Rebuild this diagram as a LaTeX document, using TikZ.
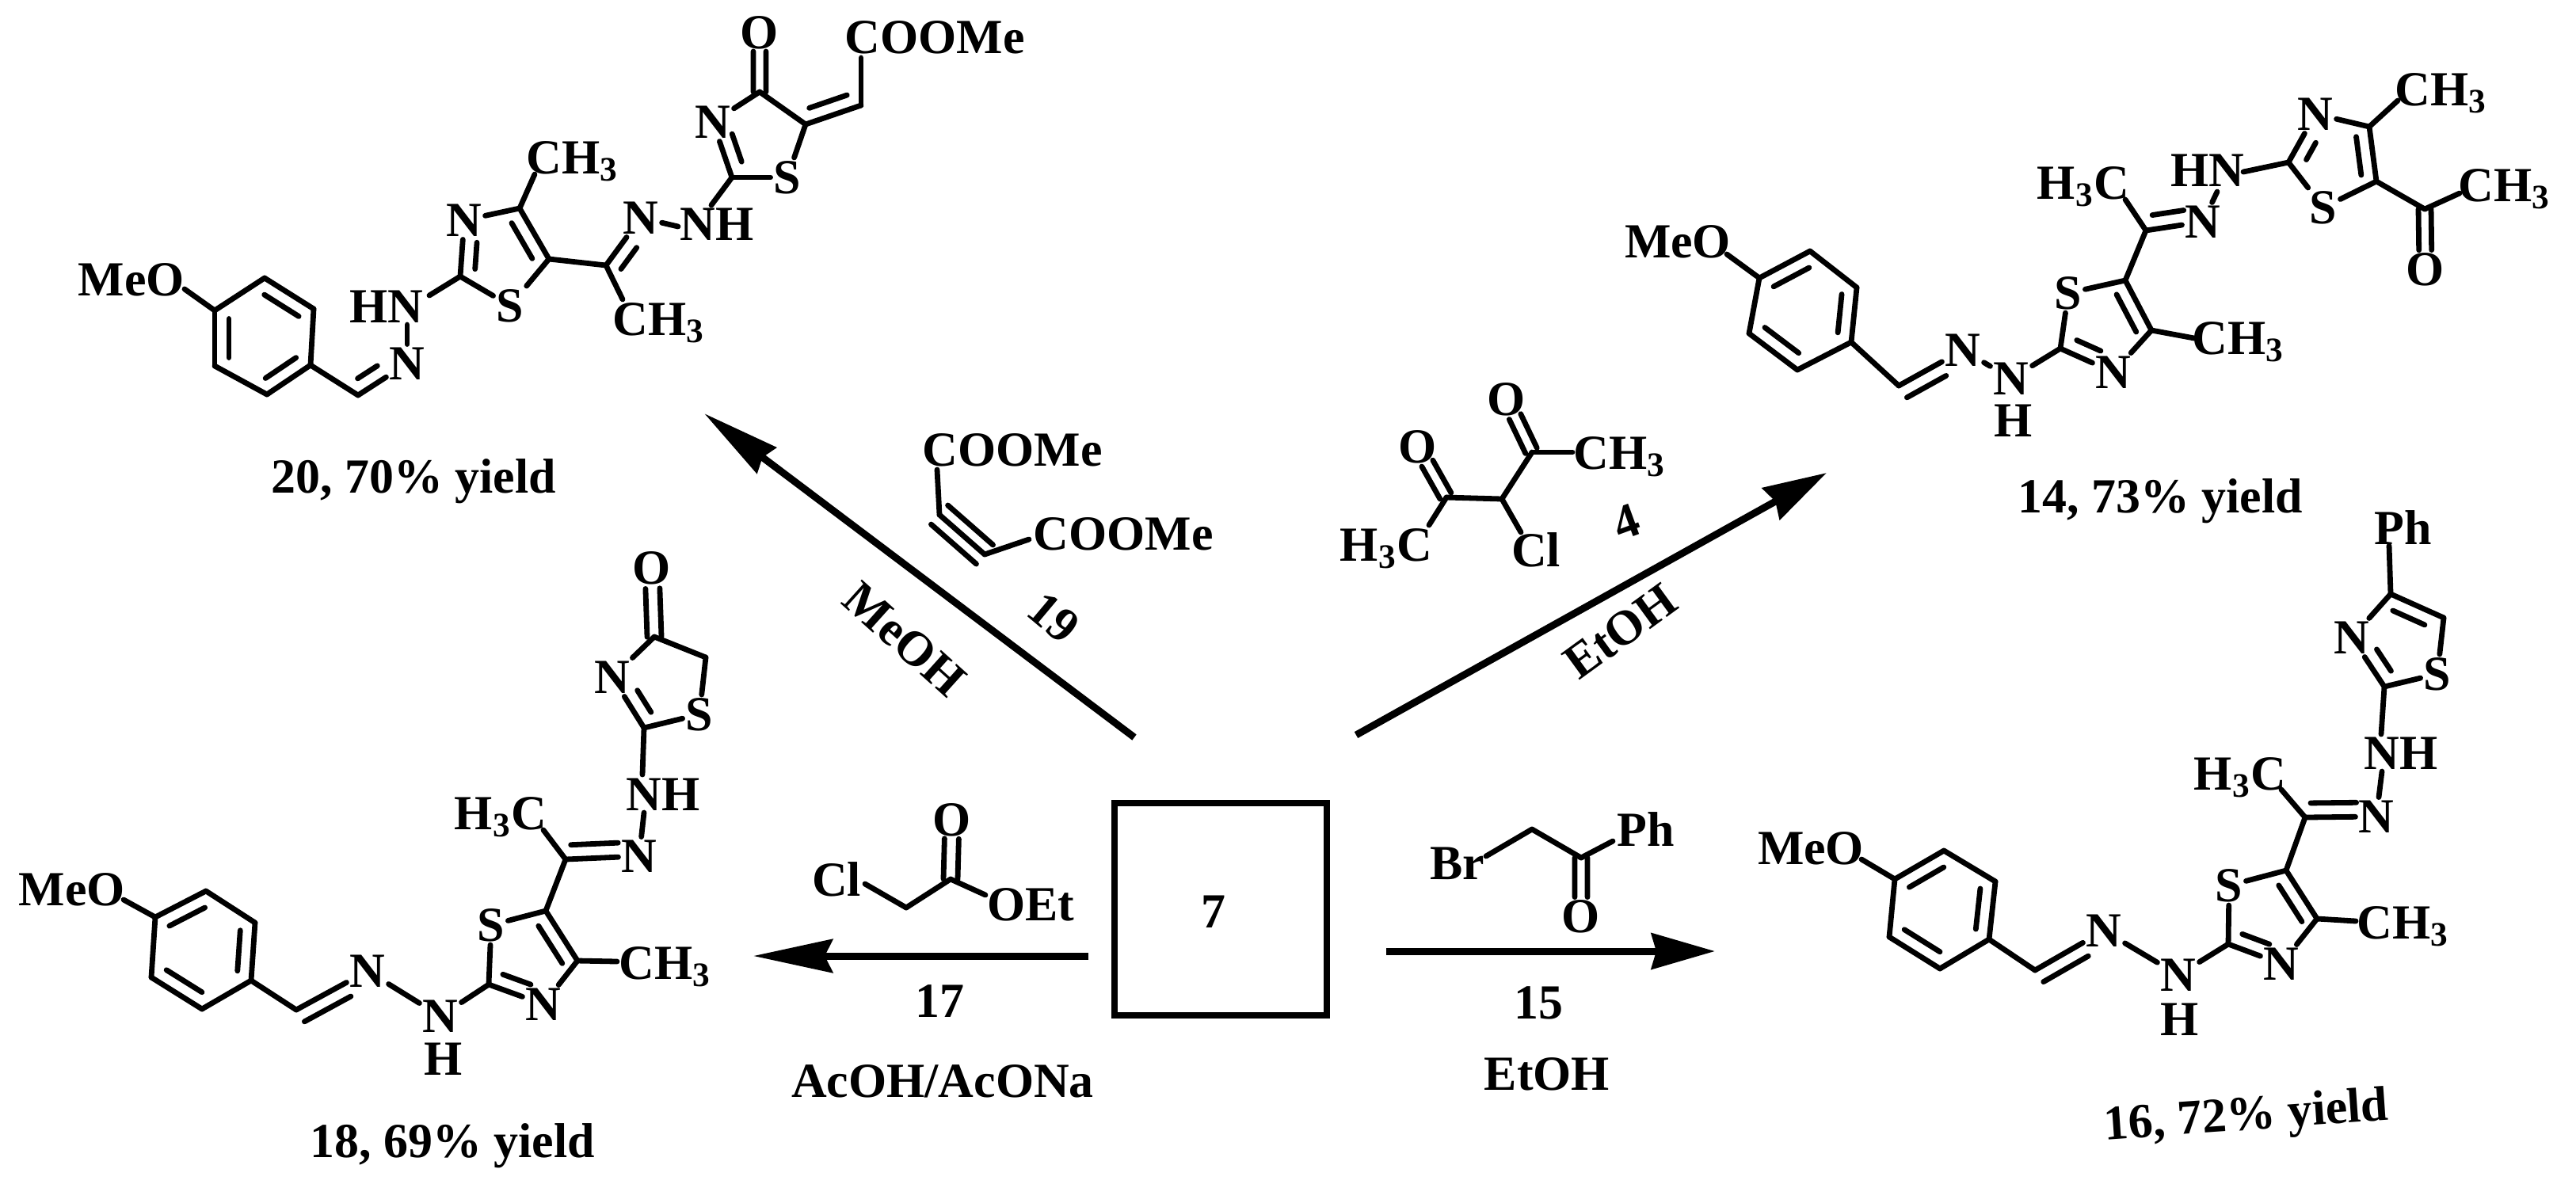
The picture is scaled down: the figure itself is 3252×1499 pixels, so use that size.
\documentclass[tikz,border=0pt]{standalone}
\usepackage{fontspec}
\setmainfont{Liberation Serif}
\usetikzlibrary{arrows.meta,calc}
\tikzset{
	lbl/.style={inner sep=1pt,font=\fontsize{17.6}{20}\selectfont\bfseries},
	bond/.style={line width=.068cm,line cap=round,line join=round},
	shaft/.style={line width=.09cm}
}
\def\thrC{CH\textsubscript{3}}
\def\thrH{H\textsubscript{3}C}
\begin{document}
\begin{tikzpicture}[x=.01cm,y=-.01cm,>=stealth]
	\useasboundingbox (0,0) rectangle (3252,1499);
	% compound 20
	\path (334,351)coordinate(a1) (396,390)coordinate(a2) (392,461)coordinate(a3) (337,498)coordinate(a4) (271,462)coordinate(a5) (271,392)coordinate(a6)
	(233,365)coordinate(a16) (452,499)coordinate(a7) (514,410)coordinate(a8) (542,373)coordinate(a9) (581,349)coordinate(a10) (656,263)coordinate(a11) (693,327)coordinate(a12)
	(675,220)coordinate(a18) (765,335)coordinate(a13) (786,378)coordinate(a19) (856,286)coordinate(a14) (898,259)coordinate(a15) (924,224)coordinate(a20)
	(959,116)coordinate(a21) (1017,157)coordinate(a22) (1087,133)coordinate(a23) (1087,73)coordinate(a24);
	\node[lbl] (aMeO) at (166,353) {MeO};
	\node[lbl] (aN1) at (514,459) {N};
	\node[lbl] (aHN) at (488,387) {HN};
	\node[lbl] (aN2) at (586,278) {N};
	\node[lbl] (aS1) at (644,386) {S};
	\node[lbl] (aMe1) at (723,204) {\thrC};
	\node[lbl] (aN3) at (809,275) {N};
	\node[lbl] (aMe2) at (832,408) {\thrC};
	\node[lbl] (aNH) at (905,283) {NH};
	\node[lbl] (aN4) at (900,154) {N};
	\node[lbl] (aS2) at (994,224) {S};
	\node[lbl] (aO) at (959,41) {O};
	\node[lbl] (aEst) at (1180,47) {COOMe};
	\node[lbl] (aYield) at (522,608) {20, 70\% yield};
	\foreach \p/\q in {a1/a2,a2/a3,a3/a4,a4/a5,a5/a6,a6/a1,a6/a16,a3/a7,a7/aN1,aN1/a8,a9/a10,a10/aN2,aN2/a11,a11/a12,a12/aS1,aS1/a10,a11/a18,a12/a13,a13/aN3,a13/a19,aN3/a14,a15/a20,a20/aN4,aN4/a21,a21/a22,a22/aS2,aS2/a20,a22/a23,a23/a24}
		\draw[bond] (\p)--(\q);
	\foreach \p/\q/\off/\s/\e in {a1/a2/-.18cm/.15/.15,a3/a4/-.18cm/.15/.15,a5/a6/-.18cm/.15/.15,a7/aN1/.18cm/.15/.45,a10/aN2/-.18cm/.15/.38,a11/a12/-.18cm/.15/.15,a13/aN3/-.18cm/.1/.45,a20/aN4/-.18cm/.2/.3,a21/aO/.08cm/0/.32,a21/aO/-.08cm/0/.32,a22/a23/.18cm/.15/.17}
		\draw[bond] ($(\p)!\s!(\q)!\off!90:(\q)$)--($(\q)!\e!(\p)!\off!-90:(\p)$);
	% compound 14
	\path (2285,317)coordinate(b1) (2344,363)coordinate(b2) (2337,432)coordinate(b3) (2269,467)coordinate(b4) (2208,421)coordinate(b5) (2221,351)coordinate(b6)
	(2180,321)coordinate(b7) (2397,487)coordinate(b8) (2601,440)coordinate(b9) (2683,354)coordinate(b10) (2716,417)coordinate(b11) (2770,427)coordinate(b12)
	(2709,291)coordinate(b13) (2683,252)coordinate(b14) (2799,242)coordinate(b15) (2832,217)coordinate(b16) (2889,205)coordinate(b17) (2991,160)coordinate(b18)
	(3000,229)coordinate(b19) (3027,127)coordinate(b20) (3061,264)coordinate(b21) (3105,244)coordinate(b22);
	\node[lbl] (bMeO) at (2118,305) {MeO};
	\node[lbl] (bN1) at (2478,442) {N};
	\node[lbl] (bNH) at (2539,478) {N};
	\node[lbl] (bH) at (2542,531) {H};
	\node[lbl] (bS1) at (2611,370) {S};
	\node[lbl] (bN2) at (2668,470) {N};
	\node[lbl] (bMe1) at (2826,432) {\thrC};
	\node[lbl] (bMe2) at (2630,236) {\thrH};
	\node[lbl] (bN3) at (2781,280) {N};
	\node[lbl] (bHN) at (2787,215) {HN};
	\node[lbl] (bN4) at (2923,144) {N};
	\node[lbl] (bS2) at (2933,262) {S};
	\node[lbl] (bMe3) at (3082,118) {\thrC};
	\node[lbl] (bMe4) at (3162,239) {\thrC};
	\node[lbl] (bO) at (3062,340) {O};
	\node[lbl] (bYield) at (2727,633) {14, 73\% yield};
	\foreach \p/\q in {b1/b2,b2/b3,b3/b4,b4/b5,b5/b6,b6/b1,b6/b7,b3/b8,b8/bN1,bN1/bNH,bNH/b9,b9/bS1,bS1/b10,b10/b11,b11/bN2,bN2/b9,b11/b12,b10/b13,b13/bN3,b13/b14,bN3/b15,b16/b17,b17/bN4,bN4/b18,b18/b19,b19/bS2,bS2/b17,b18/b20,b19/b21,b21/b22}
		\draw[bond] (\p)--(\q);
	\foreach \p/\q/\off/\s/\e in {b6/b1/-.18cm/.15/.15,b2/b3/-.18cm/.15/.15,b4/b5/-.18cm/.15/.15,b8/bN1/-.18cm/.02/.37,b10/b11/-.18cm/.15/.1,b9/bN2/.18cm/.2/.35,b13/bN3/.18cm/.15/.3,b17/bN4/-.18cm/.2/.45,b18/b19/-.18cm/.15/.15,b21/bO/.08cm/0/.32,b21/bO/-.08cm/0/.32}
		\draw[bond] ($(\p)!\s!(\q)!\off!90:(\q)$)--($(\q)!\e!(\p)!\off!-90:(\p)$);
	% compound 18
	\path (260,1125)coordinate(c1) (322,1165)coordinate(c2) (317,1238)coordinate(c3) (255,1274)coordinate(c4) (191,1234)coordinate(c5) (196,1158)coordinate(c6)
	(156,1136)coordinate(c7) (374,1275)coordinate(c8) (617,1243)coordinate(c9) (689,1150)coordinate(c10) (729,1213)coordinate(c11) (779,1214)coordinate(c12)
	(714,1085)coordinate(c13) (686,1048)coordinate(c14) (813,1026)coordinate(c15) (811,978)coordinate(c16) (813,919)coordinate(c17) (891,830)coordinate(c18) (826,804)coordinate(c19);
	\node[lbl] (cMeO) at (91,1123) {MeO};
	\node[lbl] (cN1) at (464,1226) {N};
	\node[lbl] (cNH) at (556,1283) {N};
	\node[lbl] (cH) at (560,1337) {H};
	\node[lbl] (cS1) at (620,1168) {S};
	\node[lbl] (cN2) at (686,1268) {N};
	\node[lbl] (cMe1) at (840,1221) {\thrC};
	\node[lbl] (cMe2) at (632,1032) {\thrH};
	\node[lbl] (cN3) at (807,1081) {N};
	\node[lbl] (cNH2) at (837,1003) {NH};
	\node[lbl] (cS2) at (883,902) {S};
	\node[lbl] (cN4) at (773,855) {N};
	\node[lbl] (cO) at (823,717) {O};
	\node[lbl] (cYield) at (571,1447) {18, 69\% yield};
	\foreach \p/\q in {c1/c2,c2/c3,c3/c4,c4/c5,c5/c6,c6/c1,c6/c7,c3/c8,c8/cN1,cN1/cNH,cNH/c9,c9/cS1,cS1/c10,c10/c11,c11/cN2,cN2/c9,c11/c12,c10/c13,c13/cN3,c13/c14,cN3/c15,c16/c17,c17/cS2,cS2/c18,c18/c19,c19/cN4,cN4/c17}
		\draw[bond] (\p)--(\q);
	\foreach \p/\q/\off/\s/\e in {c6/c1/-.18cm/.15/.15,c2/c3/-.18cm/.15/.15,c4/c5/-.18cm/.15/.15,c8/cN1/-.18cm/.02/.33,c9/cN2/.18cm/.17/.32,c10/c11/-.18cm/.15/.1,c13/cN3/.18cm/.08/.28,c17/cN4/-.18cm/.16/.41,c19/cO/.09cm/0/.3,c19/cO/-.09cm/0/.3}
		\draw[bond] ($(\p)!\s!(\q)!\off!90:(\q)$)--($(\q)!\e!(\p)!\off!-90:(\p)$);
	% compound 16
	\path (2454,1074)coordinate(d1) (2519,1113)coordinate(d2) (2511,1186)coordinate(d3) (2449,1223)coordinate(d4) (2385,1183)coordinate(d5) (2392,1110)coordinate(d6)
	(2350,1085)coordinate(d7) (2569,1225)coordinate(d8) (2813,1192)coordinate(d9) (2886,1099)coordinate(d10) (2925,1160)coordinate(d11) (2974,1163)coordinate(d12)
	(2910,1032)coordinate(d13) (2880,997)coordinate(d14) (3007,974)coordinate(d15) (3006,927)coordinate(d16) (3010,867)coordinate(d17) (3085,780)coordinate(d18) (3018,750)coordinate(d19) (3016,689)coordinate(d20);
	\node[lbl] (dMeO) at (2286,1071) {MeO};
	\node[lbl] (dN1) at (2656,1175) {N};
	\node[lbl] (dNH) at (2750,1231) {N};
	\node[lbl] (dH) at (2752,1287) {H};
	\node[lbl] (dS1) at (2814,1118) {S};
	\node[lbl] (dN2) at (2880,1217) {N};
	\node[lbl] (dMe1) at (3034,1170) {\thrC};
	\node[lbl] (dMe2) at (2828,982) {\thrH};
	\node[lbl] (dN3) at (3000,1031) {N};
	\node[lbl] (dNH2) at (3031,951) {NH};
	\node[lbl] (dS2) at (3077,851) {S};
	\node[lbl] (dN4) at (2969,805) {N};
	\node[lbl] (dPh) at (3034,666) {Ph};
	\node[lbl,rotate=4] (dYield) at (2836,1412) {16, 72\% yield};
	\foreach \p/\q in {d1/d2,d2/d3,d3/d4,d4/d5,d5/d6,d6/d1,d6/d7,d3/d8,d8/dN1,dN1/dNH,dNH/d9,d9/dS1,dS1/d10,d10/d11,d11/dN2,dN2/d9,d11/d12,d10/d13,d13/dN3,d13/d14,dN3/d15,d16/d17,d17/dS2,dS2/d18,d18/d19,d19/dN4,dN4/d17,d19/d20}
		\draw[bond] (\p)--(\q);
	\foreach \p/\q/\off/\s/\e in {d6/d1/-.18cm/.15/.15,d2/d3/-.18cm/.15/.15,d4/d5/-.18cm/.15/.15,d8/dN1/-.18cm/.02/.33,d9/dN2/.18cm/.17/.32,d10/d11/-.18cm/.15/.1,d13/dN3/.18cm/.08/.28,d17/dN4/-.18cm/.16/.4,d19/d18/-.18cm/.15/.25}
		\draw[bond] ($(\p)!\s!(\q)!\off!90:(\q)$)--($(\q)!\e!(\p)!\off!-90:(\p)$);
	% reagents
	\path (1186,650)coordinate(e1) (1243,700)coordinate(e2) (1183,593)coordinate(e3) (1299,681)coordinate(e4)
	(1826,628)coordinate(f1) (1896,630)coordinate(f2) (1934,571)coordinate(f3) (1804,663)coordinate(f4) (1920,672)coordinate(f5) (1985,571)coordinate(f6)
	(1144,1146)coordinate(g1) (1200,1110)coordinate(g2) (1092,1116)coordinate(g3) (1244,1130)coordinate(g4)
	(1934,1047)coordinate(h1) (1996,1083)coordinate(h2) (1876,1081)coordinate(h3) (2036,1062)coordinate(h4);
	\node[lbl] (eEst1) at (1278,568) {COOMe};
	\node[lbl] (eEst2) at (1418,674) {COOMe};
	\node[lbl,rotate=-40] (eNo) at (1330,780) {19};
	\node[lbl] (fO1) at (1790,564) {O};
	\node[lbl] (fO2) at (1902,504) {O};
	\node[lbl] (fMe1) at (1750,693) {\thrH};
	\node[lbl] (fMe2) at (2045,577) {\thrC};
	\node[lbl] (fCl) at (1939,694) {Cl};
	\node[lbl,rotate=20] (fNo) at (2053,659) {4};
	\node[lbl] (gCl) at (1056,1110) {Cl};
	\node[lbl] (gOEt) at (1301,1142) {OEt};
	\node[lbl] (gO) at (1202,1035) {O};
	\node[lbl] (gNo) at (1186,1264) {17};
	\node[lbl] (gSolv) at (1190,1365) {AcOH/AcONa};
	\node[lbl] (hBr) at (1840,1090) {Br};
	\node[lbl] (hPh) at (2078,1047) {Ph};
	\node[lbl] (hO) at (1996,1157) {O};
	\node[lbl] (hNo) at (1942,1266) {15};
	\node[lbl] (hSolv) at (1953,1356) {EtOH};
	\foreach \p/\q in {e3/e1,e1/e2,e2/e4,f1/f2,f2/f3,f1/f4,f2/f5,f3/f6,g3/g1,g1/g2,g2/g4,h3/h1,h1/h2,h2/h4}
		\draw[bond] (\p)--(\q);
	\foreach \p/\q/\off/\s/\e in {e1/e2/.16cm/0/0,e1/e2/-.16cm/0/0,f1/fO1/.08cm/.03/.33,f1/fO1/-.08cm/.03/.33,f3/fO2/.08cm/.03/.33,f3/fO2/-.08cm/.03/.33,g2/gO/.09cm/0/.32,g2/gO/-.09cm/0/.32,h2/hO/.08cm/0/.33,h2/hO/-.08cm/0/.33}
		\draw[bond] ($(\p)!\s!(\q)!\off!90:(\q)$)--($(\q)!\e!(\p)!\off!-90:(\p)$);
	% starting compound and arrows
	\node[draw,line width=.08cm,minimum size=2.68cm,inner sep=0pt] (box) at (1541,1148) {};
	\node[lbl] (seven) at (1532,1151) {7};
	\path (1432,931)coordinate(m1) (889,522)coordinate(m2) (1712,928)coordinate(m3) (2306,597)coordinate(m4)
	(1374,1207)coordinate(m5) (951,1207)coordinate(m6) (1750,1201)coordinate(m7) (2165,1201)coordinate(m8);
	\draw[shaft,-{Stealth[length=.98cm,width=.4cm,inset=.06cm]}] (m1)--(m2);
	\draw[shaft,-{Stealth[length=.8cm,width=.45cm,inset=.06cm]}] (m3)--(m4);
	\draw[shaft,-{Stealth[length=1cm,width=.42cm,inset=.1cm]}] (m5)--(m6);
	\draw[shaft,-{Stealth[length=.8cm,width=.45cm,inset=.06cm]}] (m7)--(m8);
	\node[lbl,rotate=-42] (mMeOH) at (1142,807) {MeOH};
	\node[lbl,rotate=36] (mEtOH) at (2046,797) {EtOH};
\end{tikzpicture}
\end{document}
